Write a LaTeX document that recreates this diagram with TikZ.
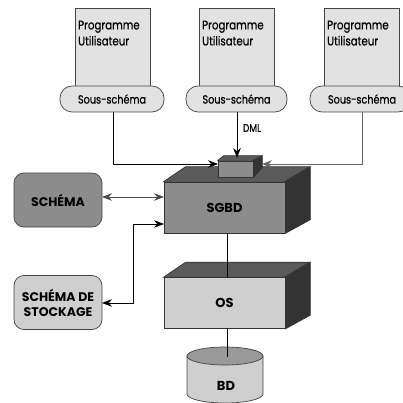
\documentclass[tikz,border=0pt]{standalone}
\usepackage{fontspec}
\setmainfont{Poppins}
\newfontfamily\narrowfont{Poppins}[FakeStretch=0.82,FakeBold=0.6]
\usetikzlibrary{arrows.meta}
\definecolor{lite}{HTML}{E2E2E2}
\definecolor{midg}{HTML}{8C8C8C}
\definecolor{topg}{HTML}{5A5A5A}
\definecolor{sideg}{HTML}{333333}
\definecolor{pale}{HTML}{CFCFCF}
\definecolor{edge}{HTML}{444444}
\tikzset{
  prog/.style={draw=edge, fill=lite, line width=0.7pt, minimum width=75pt, minimum height=87pt, inner sep=0pt},
  sous/.style={draw=edge, fill=lite, line width=0.7pt, rounded corners=12pt, minimum height=26pt, inner sep=0pt, font=\narrowfont\fontsize{11.8}{13}\selectfont},
  front/.style={draw=sideg, line width=0.7pt, minimum width=121pt, minimum height=51pt, inner sep=0pt, font=\fontsize{13}{15}\selectfont\bfseries},
  sidebox/.style={draw=edge, rounded corners=10pt, line width=0.7pt, minimum width=88pt, minimum height=54pt, inner sep=0pt, align=center, font=\fontsize{12.5}{15}\selectfont\bfseries},
  conn/.style={line width=0.8pt, draw=black},
  ah/.tip={Stealth[length=10pt,width=7.5pt]},
  tip/.style={-ah},
  ptext/.style={anchor=north west, align=left, inner sep=0pt, font=\narrowfont\fontsize{12.5}{16}\selectfont}
}
\begin{document}
\begin{tikzpicture}[x=1pt,y=-1pt]
\useasboundingbox (0,0) rectangle (403,403);
% programme boxes
\node[prog] (p1) at (112.5,51.5) {};
\node[prog] (p2) at (237,51.5) {};
\node[prog] (p3) at (362,51.5) {};
\node[ptext] (t1) at (78,20.5) {Programme\\Utilisateur};
\node[ptext] (t2) at (202,20.5) {Programme\\Utilisateur};
\node[ptext] (t3) at (327,20.5) {Programme\\Utilisateur};
\node[sous, minimum width=104pt] (s1) at (112,99) {Sous-schéma};
\node[sous, minimum width=101pt] (s2) at (236.5,99) {Sous-schéma};
\node[sous, minimum width=100pt] (s3) at (360,99) {};
\node[font=\narrowfont\fontsize{11.8}{13}\selectfont, inner sep=0pt] (s3t) at (362,99) {Sous-schéma};
% SGBD
\node[front, fill=midg] (sgbd) at (224.5,207.5) {SGBD};
\fill[topg, draw=sideg, line width=0.7pt] (sgbd.north west) -- ++(22,-15) -- ++(124,0) -- ++(-25,15) -- cycle;
\fill[sideg, draw=sideg, line width=0.7pt] (sgbd.north east) -- ++(25,-15) -- ++(0,53) -- (sgbd.south east) -- cycle;
% small DML box
\node[draw=sideg, fill=midg, line width=0.7pt, minimum width=35pt, minimum height=16pt, inner sep=0pt] (dml) at (235.5,169) {};
\fill[topg, draw=sideg, line width=0.7pt] (dml.north west) -- ++(6,-5) -- ++(38,0) -- ++(-9,5) -- cycle;
\fill[sideg, draw=sideg, line width=0.7pt] (dml.north east) -- ++(9,-5) -- ++(0,12) -- (dml.south east) -- cycle;
% OS
\node[front, fill=pale] (os) at (224.5,303) {OS};
\fill[topg, draw=sideg, line width=0.7pt] (os.north west) -- ++(22,-15) -- ++(124,0) -- ++(-25,15) -- cycle;
\fill[sideg, draw=sideg, line width=0.7pt] (os.north east) -- ++(25,-15) -- ++(0,53) -- (os.south east) -- cycle;
% BD cylinder
\filldraw[fill=pale, draw=edge, line width=0.7pt] (187,356) -- (187,394) arc[start angle=180, end angle=360, x radius=38pt, y radius=9pt] -- (263,356) -- cycle;
\filldraw[fill=midg!80!pale, draw=edge, line width=0.7pt] (225,356) ellipse[x radius=38pt, y radius=9pt];
\node[font=\fontsize{13}{15}\selectfont\bfseries, inner sep=0pt] (bd) at (226,386) {BD};
\coordinate (bdtop) at (227,357);
% left boxes
\node[sidebox, fill=midg] (schema) at (58,200) {SCHÉMA};
\node[sidebox, fill=pale] (stock) at (58,302.5) {SCHÉMA DE\\STOCKAGE};
% connectors
\coordinate (c1) at (113,112);
\coordinate (c1b) at (113,164);
\coordinate (dmlL) at (218,164);
\coordinate (c3) at (362,112);
\coordinate (c3b) at (362,164);
\coordinate (dmlR) at (262,164);
\coordinate (c2) at (237,112);
\coordinate (dmlT) at (237,158);
\draw[conn, tip] (c1) -- (c1b) -- (dmlL);
\draw[conn, draw=black!60, tip] (c3) -- (c3b) -- (dmlR);
\draw[conn, tip] (c2) -- (dmlT);
\node[font=\narrowfont\fontsize{11}{12}\selectfont, inner sep=0pt] (dmllab) at (252,128) {DML};
\coordinate (a1) at (102,197);
\coordinate (a2) at (164,197);
\draw[conn, draw=black!70, ah-ah] (a1) -- (a2);
\coordinate (b1) at (102,303);
\coordinate (b2) at (133,303);
\coordinate (b3) at (133,224);
\coordinate (b4) at (164,224);
\draw[conn, ah-ah] (b1) -- (b2) -- (b3) -- (b4);
\coordinate (v1) at (227,233);
\coordinate (v2) at (227,277);
\coordinate (v3) at (227,329);
\draw[conn] (v1) -- (v2);
\draw[conn] (v3) -- (bdtop);
\end{tikzpicture}
\end{document}
